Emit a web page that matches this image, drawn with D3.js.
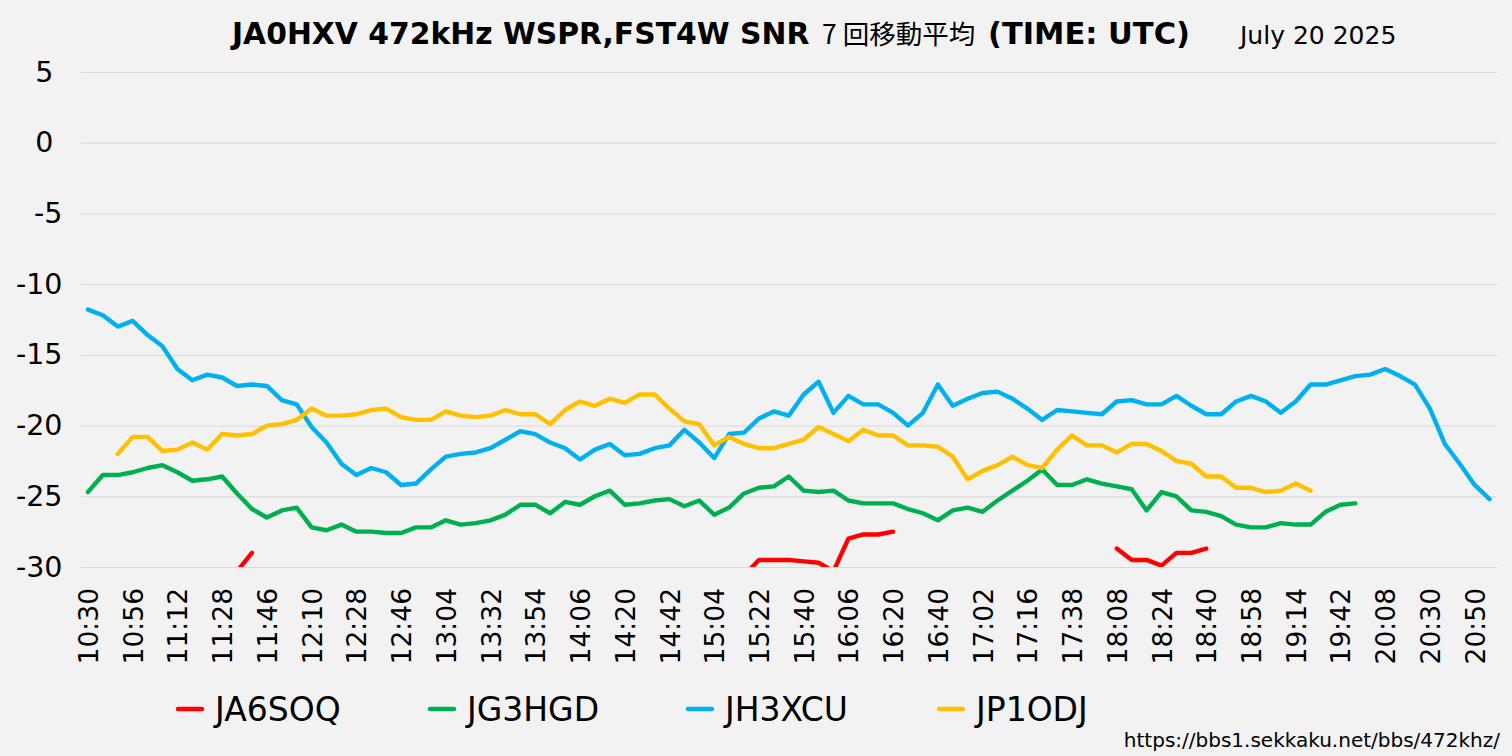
<!DOCTYPE html>
<html>
<head>
<meta charset="utf-8">
<script src="https://cdn.jsdelivr.net/npm/d3@7"></script>
<style>
  body { margin: 0; background: #f2f2f2; }
  svg { display: block; }
</style>
</head>
<body>
<svg id="chart" width="1512" height="756"></svg>
<script>
// categories (every 3rd one is labelled on the axis)
var times = [
  "10:30","10:38","10:48", "10:56","11:02","11:06", "11:12","11:18","11:22",
  "11:28","11:34","11:40", "11:46","11:54","12:02", "12:10","12:16","12:22",
  "12:28","12:34","12:40", "12:46","12:52","12:58", "13:04","13:14","13:22",
  "13:32","13:40","13:48", "13:54","13:58","14:02", "14:06","14:10","14:16",
  "14:20","14:28","14:34", "14:42","14:50","14:56", "15:04","15:10","15:16",
  "15:22","15:28","15:34", "15:40","15:48","15:58", "16:06","16:10","16:14",
  "16:20","16:26","16:34", "16:40","16:48","16:54", "17:02","17:06","17:12",
  "17:16","17:24","17:30", "17:38","17:48","17:58", "18:08","18:12","18:18",
  "18:24","18:30","18:34", "18:40","18:46","18:52", "18:58","19:04","19:08",
  "19:14","19:22","19:32", "19:42","19:50","20:00", "20:08","20:16","20:22",
  "20:30","20:36","20:44", "20:50","20:56"
];

var seriesNames = ["JA6SOQ", "JG3HGD", "JH3XCU", "JP1ODJ"];
var seriesColors = ["#ff0000", "#00b050", "#00b0f0", "#ffc000"];

var n = null;
var ja6soq = [
  n,n,n,n,n,n,n,n,n,n, -30.3,-29.0, n,n,n,n,n,n,n,n,
  n,n,n,n,n,n,n,n,n,n, n,n,n,n,n,n,n,n,n,n,
  n,n,n,n, -30.6,-29.5,-29.5,-29.5,-29.6,-29.7, -30.3,-28.0,-27.7,-27.7,-27.5, n,n,n,n,n,
  n,n,n,n,n,n,n,n,n, -28.7, -29.5,-29.5,-29.9,-29.0,-29.0,-28.7, n,n,n,n,
  n,n,n,n,n,n,n,n,n,n, n,n,n,n,n
];
var jg3hgd = [
  -24.7,-23.5,-23.5,-23.3,-23.0,-22.8,-23.3,-23.9,-23.8,-23.6,
  -24.8,-25.9,-26.5,-26.0,-25.8,-27.2,-27.4,-27.0,-27.5,-27.5,
  -27.6,-27.6,-27.2,-27.2,-26.7,-27.0,-26.9,-26.7,-26.3,-25.6,
  -25.6,-26.2,-25.4,-25.6,-25.0,-24.6,-25.6,-25.5,-25.3,-25.2,
  -25.7,-25.3,-26.3,-25.8,-24.8,-24.4,-24.3,-23.6,-24.6,-24.7,
  -24.6,-25.3,-25.5,-25.5,-25.5,-25.9,-26.2,-26.7,-26.0,-25.8,
  -26.1,-25.3,-24.6,-23.9,-23.1,-24.2,-24.2,-23.8,-24.1,-24.3,
  -24.5,-26.0,-24.7,-25.0,-26.0,-26.1,-26.4,-27.0,-27.2,-27.2,
  -26.9,-27.0,-27.0,-26.1,-25.6,-25.5, n,n,n,n,
  n,n,n,n,n
];
var jh3xcu = [
  -11.8,-12.2,-13.0,-12.6,-13.6,-14.4,-16.0,-16.8,-16.4,-16.6,
  -17.2,-17.1,-17.2,-18.2,-18.5,-20.1,-21.2,-22.7,-23.5,-23.0,
  -23.3,-24.2,-24.1,-23.1,-22.2,-22.0,-21.9,-21.6,-21.0,-20.4,
  -20.6,-21.2,-21.6,-22.4,-21.7,-21.3,-22.1,-22.0,-21.6,-21.4,
  -20.3,-21.2,-22.3,-20.6,-20.5,-19.5,-19.0,-19.3,-17.8,-16.9,
  -19.1,-17.9,-18.5,-18.5,-19.1,-20.0,-19.1,-17.1,-18.6,-18.1,
  -17.7,-17.6,-18.1,-18.8,-19.6,-18.9,-19.0,-19.1,-19.2,-18.3,
  -18.2,-18.5,-18.5,-17.9,-18.6,-19.2,-19.2,-18.3,-17.9,-18.3,
  -19.1,-18.3,-17.1,-17.1,-16.8,-16.5,-16.4,-16.0,-16.5,-17.1,
  -18.8,-21.3,-22.7,-24.2,-25.2
];
var jp1odj = [
  n,n,-22.0,-20.8,-20.8,-21.8,-21.7,-21.2,-21.7,-20.6,
  -20.7,-20.6,-20.0,-19.9,-19.6,-18.8,-19.3,-19.3,-19.2,-18.9,
  -18.8,-19.4,-19.6,-19.6,-19.0,-19.3,-19.4,-19.3,-18.9,-19.2,
  -19.2,-19.9,-18.9,-18.3,-18.6,-18.1,-18.4,-17.8,-17.8,-18.8,
  -19.7,-19.9,-21.4,-20.8,-21.3,-21.6,-21.6,-21.3,-21.0,-20.1,
  -20.6,-21.1,-20.3,-20.7,-20.7,-21.4,-21.4,-21.5,-22.2,-23.8,
  -23.2,-22.8,-22.2,-22.8,-23.0,-21.7,-20.7,-21.4,-21.4,-21.9,
  -21.3,-21.3,-21.8,-22.5,-22.7,-23.6,-23.6,-24.4,-24.4,-24.7,
  -24.6,-24.1,-24.6, n,n,n,n,n,n,n,
  n,n,n,n,n
];
var seriesValues = [ja6soq, jg3hgd, jh3xcu, jp1odj];

var yTicks = [5, 0, -5, -10, -15, -20, -25, -30];

var fontFace = "DejaVu Sans, Verdana, sans-serif";

var svg = d3.select("#chart");
var width = 1512, height = 756;
var plot = {left: 80.5, right: 1497, top: 72, bottom: 567};

svg.append("rect")
    .attr("width", width)
    .attr("height", height)
    .attr("fill", "#f2f2f2");

var x = d3.scalePoint()
    .domain(times)
    .range([plot.left, plot.right])
    .padding(0.5);

var y = d3.scaleLinear()
    .domain([-30, 5])
    .range([plot.bottom, plot.top]);

// grid + y labels
var yAxis = svg.append("g")
    .attr("transform", "translate(" + plot.left + ",0)")
    .call(d3.axisLeft(y)
      .tickValues(yTicks)
      .tickSize(-(plot.right - plot.left))
      .tickPadding(18)
      .tickFormat(function(d) { return d.toString(); }));
yAxis.select(".domain").remove();
yAxis.selectAll(".tick line").attr("stroke", "#d9d9d9").attr("stroke-width", 1);
yAxis.selectAll(".tick text")
    .attr("fill", "#000")
    .attr("dx", function(d) { return d >= 0 ? -9 : 0; })   // excel pads positives
    .style("font-family", fontFace)
    .style("font-size", "28.5px");

// x labels, rotated
var xAxis = svg.append("g")
    .attr("transform", "translate(0," + plot.bottom + ")")
    .call(d3.axisBottom(x)
      .tickValues(times.filter(function(d, i) { return i % 3 === 0; }))
      .tickSize(0));
xAxis.select(".domain").remove();
xAxis.selectAll(".tick text")
    .attr("fill", "#000")
    .style("font-family", fontFace)
    .style("font-size", "26.5px")
    .attr("text-anchor", "end")
    .attr("transform", "rotate(-90)")
    .attr("x", -21)
    .attr("y", 0)
    .attr("dy", "0.36em");

// lines
svg.append("clipPath")
    .attr("id", "plotClip")
  .append("rect")
    .attr("x", plot.left)
    .attr("y", plot.top - 10)
    .attr("width", plot.right - plot.left)
    .attr("height", plot.bottom - plot.top + 10);

var line = d3.line()
    .defined(function(d) { return d !== null; })
    .x(function(d, i) { return x(times[i]); })
    .y(function(d) { return y(d); });

svg.append("g")
    .attr("clip-path", "url(#plotClip)")
  .selectAll("path")
  .data(seriesValues)
  .enter()
  .append("path")
    .attr("d", line)
    .attr("fill", "none")
    .attr("stroke", function(d, i) { return seriesColors[i]; })
    .attr("stroke-width", 4.4)
    .attr("stroke-linejoin", "round")
    .attr("stroke-linecap", "round");

// legend
var legendX = [176, 428, 686, 937];
var legend = svg.append("g")
    .selectAll("g")
    .data(seriesNames)
    .enter()
    .append("g")
    .attr("transform", function(d, i) { return "translate(" + legendX[i] + ",709)"; });
legend.append("line")
    .attr("x1", 2).attr("x2", 26)
    .attr("stroke", function(d, i) { return seriesColors[i]; })
    .attr("stroke-width", 4.4)
    .attr("stroke-linecap", "round");
legend.append("text")
    .attr("x", 39)
    .attr("dy", "0.36em")
    .text(function(d) { return d; })
    .style("font-family", fontFace)
    .style("font-size", "33px");

// title
var title = svg.append("g").attr("class", "title");
title.append("text")
    .attr("x", 232).attr("y", 44)
    .text("JA0HXV 472kHz WSPR,FST4W SNR")
    .style("font-family", fontFace)
    .style("font-weight", "bold")
    .style("font-size", "29.8px");
title.append("text")
    .attr("x", 822).attr("y", 44)
    .text("7 回移動平均")
    .style("font-family", "Noto Sans CJK JP, sans-serif")
    .style("font-size", "26.5px");
title.append("text")
    .attr("x", 988).attr("y", 44)
    .text("(TIME: UTC)")
    .style("font-family", fontFace)
    .style("font-weight", "bold")
    .style("font-size", "30.5px");
title.append("text")
    .attr("x", 1240).attr("y", 44)
    .text("July 20 2025")
    .style("font-family", fontFace)
    .style("font-size", "25px");

svg.append("text")
    .attr("x", 1500).attr("y", 747)
    .attr("text-anchor", "end")
    .text("https://bbs1.sekkaku.net/bbs/472khz/")
    .style("font-family", fontFace)
    .style("font-size", "20px");
</script>
</body>
</html>
